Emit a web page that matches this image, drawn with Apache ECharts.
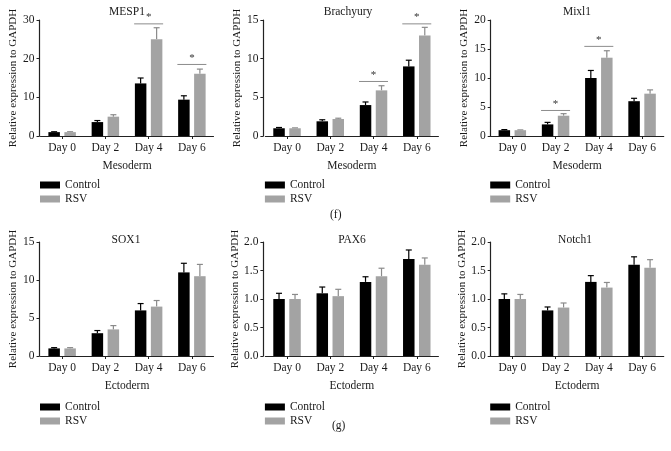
<!DOCTYPE html>
<html><head><meta charset="utf-8">
<script src="https://cdn.jsdelivr.net/npm/echarts@6/dist/echarts.min.js"></script>
<style>html,body{margin:0;padding:0;background:#fff}#c{width:671px;height:451px}</style>
</head><body><div id="c"></div>
<script>
const days = ['Day 0','Day 2','Day 4','Day 6'];
const seriesNames = ['Control','RSV'];
const panelTitles = ['MESP1','Brachyury','Mixl1','SOX1','PAX6','Notch1'];
const xNames = ['Mesoderm','Mesoderm','Mesoderm','Ectoderm','Ectoderm','Ectoderm'];
const yTitle = 'Relative expression to GAPDH';
const panelLabels = ['(f)','(g)'];

const mesp1Ctrl = [1.0, 3.6, 13.6, 9.4];
const mesp1CtrlErr = [0.1, 0.4, 1.4, 1.0];
const mesp1Rsv = [1.0, 5.0, 25.0, 16.1];
const mesp1RsvErr = [0.1, 0.5, 3.0, 1.2];
const mesp1Sig = [[2, 29], [3, 18.5]];

const brachCtrl = [1.0, 1.9, 4.0, 9.0];
const brachCtrlErr = [0.1, 0.2, 0.4, 0.8];
const brachRsv = [1.0, 2.2, 5.9, 13.0];
const brachRsvErr = [0.05, 0.1, 0.6, 1.05];
const brachSig = [[2, 7.05], [3, 14.5]];

const mixlCtrl = [1.0, 2.0, 10.0, 6.0];
const mixlCtrlErr = [0.1, 0.35, 1.3, 0.5];
const mixlRsv = [1.0, 3.5, 13.5, 7.3];
const mixlRsvErr = [0.05, 0.35, 1.2, 0.65];
const mixlSig = [[1, 4.4], [2, 15.45]];

const sox1Ctrl = [1.0, 3.0, 6.0, 11.0];
const sox1CtrlErr = [0.1, 0.35, 0.9, 1.2];
const sox1Rsv = [1.0, 3.5, 6.5, 10.5];
const sox1RsvErr = [0.1, 0.5, 0.8, 1.55];
const sox1Sig = [];

const pax6Ctrl = [1.0, 1.1, 1.3, 1.7];
const pax6CtrlErr = [0.1, 0.11, 0.09, 0.16];
const pax6Rsv = [1.0, 1.05, 1.4, 1.6];
const pax6RsvErr = [0.08, 0.12, 0.14, 0.12];
const pax6Sig = [];

const notchCtrl = [1.0, 0.8, 1.3, 1.6];
const notchCtrlErr = [0.09, 0.06, 0.11, 0.14];
const notchRsv = [1.0, 0.85, 1.2, 1.55];
const notchRsvErr = [0.08, 0.08, 0.09, 0.14];
const notchSig = [];

const yMax = [30, 15, 20, 15, 2, 2];
const yInterval = [10, 5, 5, 5, 0.5, 0.5];

const panels = [
  [mesp1Ctrl, mesp1CtrlErr, mesp1Rsv, mesp1RsvErr, mesp1Sig],
  [brachCtrl, brachCtrlErr, brachRsv, brachRsvErr, brachSig],
  [mixlCtrl, mixlCtrlErr, mixlRsv, mixlRsvErr, mixlSig],
  [sox1Ctrl, sox1CtrlErr, sox1Rsv, sox1RsvErr, sox1Sig],
  [pax6Ctrl, pax6CtrlErr, pax6Rsv, pax6RsvErr, pax6Sig],
  [notchCtrl, notchCtrlErr, notchRsv, notchRsvErr, notchSig]
];

const FONT = 'Liberation Serif';
const FS = 11.5;
const TXT = '#1a1a1a';
const CTRL = '#000000';
const RSVC = '#a3a3a3';
const RSVE = '#8a8a8a';
const SIGC = '#8c8c8c';

const colLeft = [40.5, 265.4, 490.7];
const colYOffset = [1, 2, 0];
const rowTop = [20, 242];
const rowH = [116, 114];
const gridW = 173;
const legendTop = [179, 401];
const titleX = [127, 348, 577, 126, 352, 575];
const titleTop = [6, 234];
const BARW = 11.5;
const HALF = 8;

const grids = [], xAxes = [], yAxes = [], series = [], titles = [], legends = [];
for (let i = 0; i < 6; i++) {
  const r = Math.floor(i / 3), c = i % 3;
  grids.push({ left: colLeft[c], top: rowTop[r], width: gridW, height: rowH[r] });
  titles.push({ text: panelTitles[i], left: titleX[i], top: titleTop[r], textAlign: 'center', padding: 0,
    textStyle: { fontFamily: FONT, fontSize: FS, fontWeight: 'normal', color: TXT } });
  xAxes.push({ type: 'category', gridIndex: i, data: days, name: xNames[i], nameLocation: 'middle', nameGap: 24,
    nameTextStyle: { fontFamily: FONT, fontSize: FS, color: TXT },
    axisLine: { lineStyle: { color: '#222', width: 1.2 } },
    axisTick: { show: true, alignWithLabel: true, length: 3, lineStyle: { color: '#222' } },
    axisLabel: { fontFamily: FONT, fontSize: FS, color: TXT, margin: 6 } });
  yAxes.push({ type: 'value', gridIndex: i, min: 0, max: yMax[i], interval: yInterval[i], offset: colYOffset[c],
    name: yTitle, nameLocation: 'middle', nameGap: 21,
    nameTextStyle: { fontFamily: FONT, fontSize: 11, color: TXT },
    splitLine: { show: false },
    axisLine: { show: true, lineStyle: { color: '#222', width: 1.2 } },
    axisTick: { show: true, length: 3, lineStyle: { color: '#222' } },
    axisLabel: { fontFamily: FONT, fontSize: FS, color: TXT, margin: 5,
      formatter: v => yInterval[i] < 1 ? v.toFixed(1) : String(v) } });
  legends.push({ left: colLeft[c] - 0.5, top: legendTop[r], padding: 0, orient: 'vertical', itemWidth: 20, itemHeight: 7, itemGap: 2,
    data: seriesNames, textStyle: { fontFamily: FONT, fontSize: FS, color: TXT }, selectedMode: false,
    icon: 'rect' });
  const p = panels[i];
  series.push({ name: 'Control', type: 'bar', xAxisIndex: i, yAxisIndex: i, data: p[0], barWidth: BARW, barGap: '39%',
    itemStyle: { color: CTRL }, silent: true });
  series.push({ name: 'RSV', type: 'bar', xAxisIndex: i, yAxisIndex: i, data: p[2], barWidth: BARW, barGap: '39%',
    itemStyle: { color: RSVC }, silent: true });
  [[p[0], p[1], -HALF, CTRL], [p[2], p[3], HALF, RSVE]].forEach(([vals, errs, off, col]) => {
    series.push({ type: 'custom', xAxisIndex: i, yAxisIndex: i, silent: true, z: 1,
      data: vals.map((v, k) => [k, v, errs[k]]), encode: { x: 0, y: 1 },
      renderItem: (params, api) => {
        const a = api.coord([api.value(0), api.value(1)]);
        const b = api.coord([api.value(0), api.value(1) + api.value(2)]);
        const x = a[0] + off;
        return { type: 'group', children: [
          { type: 'line', shape: { x1: x, y1: a[1], x2: x, y2: b[1] }, style: { stroke: col, lineWidth: 1.2 } },
          { type: 'line', shape: { x1: x - 3, y1: b[1], x2: x + 3, y2: b[1] }, style: { stroke: col, lineWidth: 1.2 } }
        ] };
      } });
  });
  if (p[4].length) {
    series.push({ type: 'custom', xAxisIndex: i, yAxisIndex: i, silent: true, z: 3, clip: false,
      data: p[4], encode: { x: 0, y: 1 },
      renderItem: (params, api) => {
        const a = api.coord([api.value(0), api.value(1)]);
        return { type: 'group', children: [
          { type: 'line', shape: { x1: a[0] - 14.5, y1: a[1], x2: a[0] + 14.5, y2: a[1] }, style: { stroke: SIGC, lineWidth: 1 } },
          { type: 'text', style: { text: '*', x: a[0], y: a[1] - 1, textAlign: 'center', textVerticalAlign: 'bottom',
            font: '11px "' + FONT + '"', fill: '#333' } }
        ] };
      } });
  }
}

const chart = echarts.init(document.getElementById('c'), null, { renderer: 'canvas' });
chart.setOption({
  animation: false,
  backgroundColor: '#fff',
  title: titles,
  grid: grids, xAxis: xAxes, yAxis: yAxes, legend: legends, series: series,
  graphic: [
    { type: 'text', left: 330, top: 209, style: { text: panelLabels[0], font: '11.5px "' + FONT + '"', fill: TXT } },
    { type: 'text', left: 332, top: 420, style: { text: panelLabels[1], font: '11.5px "' + FONT + '"', fill: TXT } }
  ]
});
</script></body></html>
